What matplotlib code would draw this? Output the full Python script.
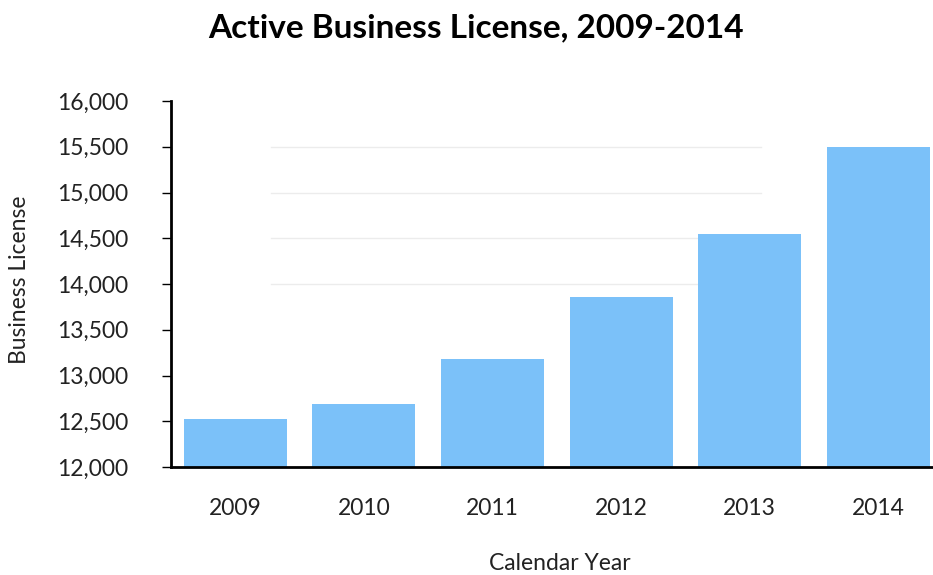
import matplotlib.pyplot as plt
import numpy as np

plt.rcParams['font.family'] = ['Lato', 'DejaVu Sans']

years = ["2009", "2010", "2011", "2012", "2013", "2014"]
licenses = [12530, 12690, 13180, 13860, 14550, 15500]
y_ticks = [12000, 12500, 13000, 13500, 14000, 14500, 15000, 15500, 16000]

fig = plt.figure(figsize=(9.33, 5.75), dpi=100)
ax = fig.add_axes([171 / 933, 108 / 575, 771.6 / 933, 366 / 575])

x = np.arange(len(years))
ax.bar(x, licenses, width=0.8, color="#7bc1f9", zorder=2)

# faint gridlines, only drawn in the middle like the original
for v in [14000, 14500, 15000, 15500]:
    ax.axhline(v, xmin=0.13, xmax=0.765, color="#ececec", lw=1, zorder=1)

ax.set_xlim(-0.5, 5.5)
ax.set_ylim(12000, 16000)
ax.set_yticks(y_ticks)
ax.set_yticklabels(["{:,}".format(t) for t in y_ticks], fontsize=16.5, color="#222222")
ax.set_xticks(x)
ax.set_xticklabels(years, fontsize=16.5, color="#222222")
ax.tick_params(axis="x", length=0, pad=22)
ax.tick_params(axis="y", length=6.5, width=1, pad=24)

for s in ["top", "right"]:
    ax.spines[s].set_visible(False)
ax.spines["left"].set_linewidth(2)
ax.spines["bottom"].set_linewidth(2)

fig.text(560 / 933, 1 - 563 / 575, "Calendar Year", ha="center", va="center",
         fontsize=16.5, color="#222222")
fig.text(20 / 933, 1 - 280 / 575, "Business License", ha="center", va="center",
         rotation=90, fontsize=16.5, color="#222222")
fig.text(476 / 933, 1 - 28 / 575, "Active Business License, 2009-2014",
         ha="center", va="center", fontsize=24, fontweight="bold")

fig.savefig("out.png", dpi=100)
